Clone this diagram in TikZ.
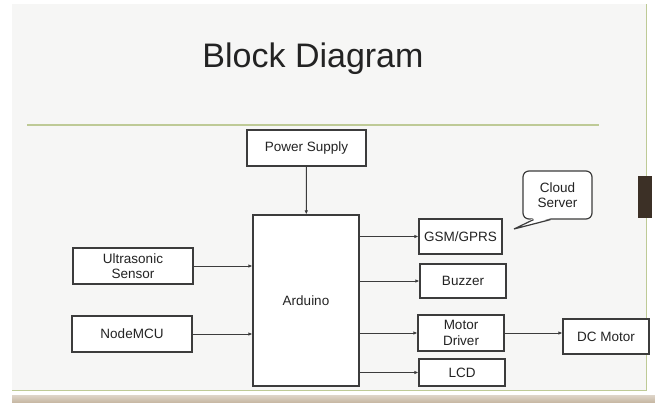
\documentclass[tikz,border=0pt]{standalone}
\usepackage{fontspec}
\setmainfont{Liberation Sans}
\usepackage{tikz}
\usetikzlibrary{arrows.meta}
\definecolor{pagegray}{RGB}{246, 246, 245}
\definecolor{rulegreen}{RGB}{190, 202, 150}
\definecolor{boxline}{RGB}{60, 60, 60}
\definecolor{darktext}{RGB}{35, 35, 35}
\definecolor{tabbrown}{RGB}{60, 48, 38}
\definecolor{bandbrown}{RGB}{200, 185, 165}

\begin{document}
\begin{tikzpicture}[x=1pt, y=-1pt,
    blk/.style={draw=boxline, fill=white, line width=1.2pt, inner sep=0pt,
        align=center, text=darktext, font=\fontsize{13.5}{15.5}\selectfont},
    link/.style={draw=boxline, line width=1pt, -{Latex[length=4pt,width=3.5pt]}}]
    % Fondo de la diapositiva
    \useasboundingbox (0,0) rectangle (655,402);
    \fill[white] (0,0) rectangle (655,402);
    \fill[pagegray] (12,4) rectangle (646,390);
    \draw[rulegreen, line width=1.3pt] (27,125) -- (599,125);
    \draw[rulegreen, line width=1pt] (646,4) -- (646,390) -- (12,390);
    \shade[top color=bandbrown!60, bottom color=bandbrown] (12,395) rectangle (655,402);
    \fill[tabbrown] (638,176) rectangle (652,218);
    \node[text=darktext, font=\fontsize{34}{38}\selectfont] (title) at (313,59) {Block Diagram};

    % Bloques
    \node[blk, minimum width=119pt, minimum height=36pt] (power) at (306.5,148) {Power Supply};
    \node[blk, minimum width=106pt, minimum height=171pt] (arduino) at (306,300.5) {Arduino};
    \node[blk, minimum width=120pt, minimum height=36pt] (ultra) at (133,266) {Ultrasonic\\Sensor};
    \node[blk, minimum width=120pt, minimum height=36pt] (nodemcu) at (132,334) {NodeMCU};
    \node[blk, minimum width=83pt, minimum height=35pt] (gsm) at (460.5,236.5) {GSM/GPRS};
    \node[blk, minimum width=86pt, minimum height=34pt] (buzzer) at (463,281) {Buzzer};
    \node[blk, minimum width=86pt, minimum height=36pt] (driver) at (461,333) {Motor\\Driver};
    \node[blk, minimum width=86pt, minimum height=27pt] (lcd) at (462,372.5) {LCD};
    \node[blk, minimum width=86pt, minimum height=35pt] (dcmotor) at (606,336.5) {DC Motor};

    % Globo de la nube
    \node[blk, rounded corners=6pt, minimum width=69pt, minimum height=48pt] (cloud) at (557.5,195) {Cloud\\Server};
    \coordinate (cloudtip) at (514,229);
    \fill[white] ([xshift=-24pt,yshift=1.4pt]cloud.south) -- (cloudtip) -- ([xshift=-7pt,yshift=1.4pt]cloud.south) -- cycle;
    \draw[boxline, line width=1.2pt] ([xshift=-24pt]cloud.south) -- (cloudtip) -- ([xshift=-7pt]cloud.south);

    % Conexiones
    \draw[link] (power) -- (arduino);
    \draw[link] (ultra.east) -- (arduino.west |- ultra.east);
    \draw[link] (nodemcu.east) -- (arduino.west |- nodemcu.east);
    \draw[link] (arduino.east |- gsm.west) -- (gsm.west);
    \draw[link] (arduino.east |- buzzer.west) -- (buzzer.west);
    \draw[link] (arduino.east |- driver.west) -- (driver.west);
    \draw[link] (arduino.east |- lcd.west) -- (lcd.west);
    \draw[link] (driver.east) -- (dcmotor.west |- driver.east);
\end{tikzpicture}
\end{document}
